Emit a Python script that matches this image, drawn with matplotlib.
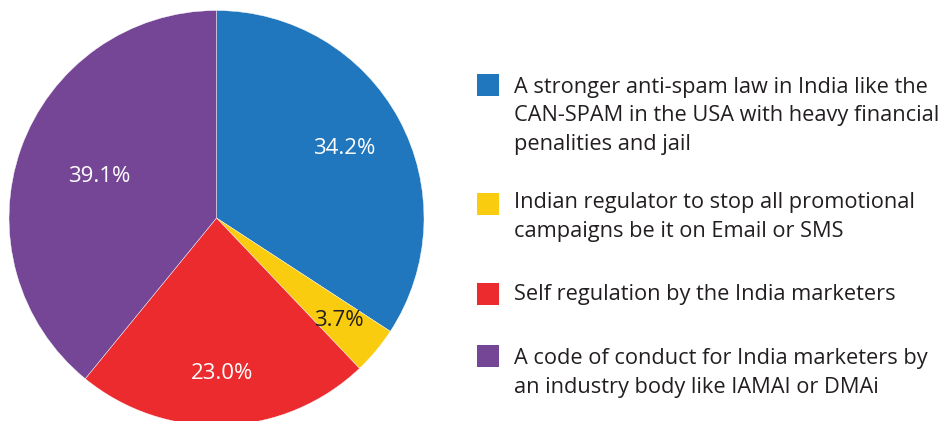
import matplotlib
matplotlib.use("Agg")
import matplotlib.pyplot as plt
from matplotlib.patches import Rectangle
import numpy as np

categories = [
    "A stronger anti-spam law in India like the\nCAN-SPAM in the USA with heavy financial\npenalities and jail",
    "Indian regulator to stop all promotional\ncampaigns be it on Email or SMS",
    "Self regulation by the India marketers",
    "A code of conduct for India marketers by\nan industry body like IAMAI or DMAi",
]
values = [34.2, 3.7, 23.0, 39.1]
pct_labels = ["34.2%", "3.7%", "23.0%", "39.1%"]
colors = ["#2177BD", "#F9CC0F", "#EC2B2E", "#754696"]
label_colors = ["white", "#231F20", "white", "white"]
label_rfrac = [0.70, 0.77, 0.75, 0.60]

W, H = 948, 421
fig = plt.figure(figsize=(W / 100, H / 100), dpi=100)
ax = fig.add_axes([0, 0, 1, 1])
font = "Open Sans"
cx, cy, R = 216.5, 203.0, 207.5

wedges, _ = ax.pie(values, colors=colors, startangle=90, counterclock=False,
                   center=(cx, cy), radius=R,
                   wedgeprops=dict(edgecolor="white", linewidth=0.3))
ax.set_xlim(0, W)
ax.set_ylim(0, H)
ax.set_aspect("auto")
ax.axis("off")

for w, lab, col, rf in zip(wedges, pct_labels, label_colors, label_rfrac):
    th = np.deg2rad((w.theta1 + w.theta2) / 2)
    ax.text(cx + rf * R * np.cos(th), cy + rf * R * np.sin(th), lab,
            ha="center", va="center", color=col, fontsize=16, family=font)

# legend
sq_top = [74, 193, 283, 345]
first_base = [93, 208, 300, 364]
line_gap = 28.5
for cat, col, st, fb in zip(categories, colors, sq_top, first_base):
    ax.add_patch(Rectangle((477, H - st - 22), 22, 22, facecolor=col, edgecolor="none"))
    for i, line in enumerate(cat.split("\n")):
        ax.text(514, H - (fb + i * line_gap), line, ha="left", va="baseline",
                color="#231F20", fontsize=15.7, family=font)

fig.savefig("out.png", dpi=100)
